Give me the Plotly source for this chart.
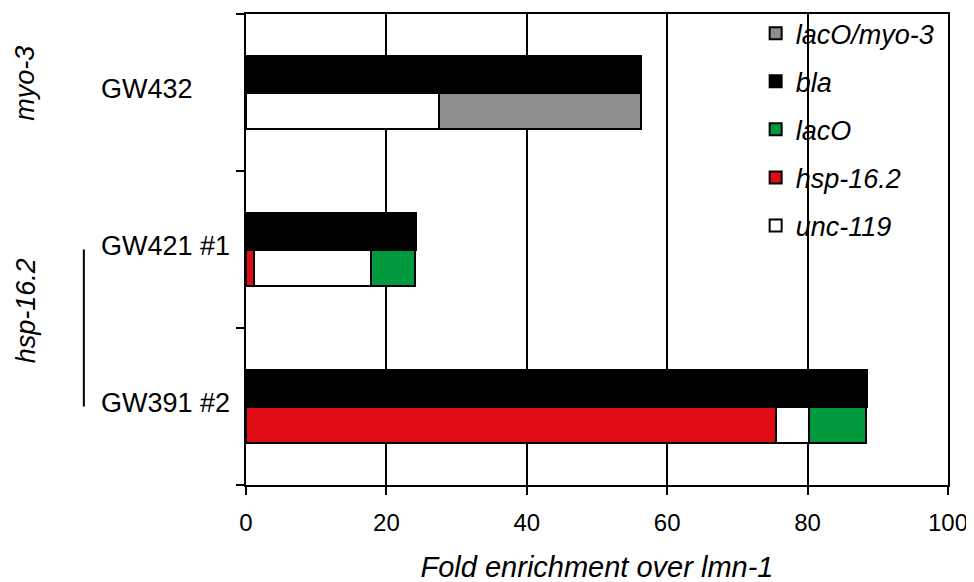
import plotly.graph_objects as go

categories = ["GW432", "GW421 #1", "GW391 #2"]
groups = ["myo-3", "hsp-16.2"]
bla = [56.3, 24.2, 88.4]
hsp16 = [None, 1.2, 75.5]
unc119 = [27.5, 16.6, 4.7]
lacO = [None, 6.3, 8.1]
lacO_myo3 = [28.8, None, None]
x_ticks = [0, 20, 40, 60, 80, 100]

FONT = "Arial, Liberation Sans, sans-serif"
pos = [2, 1, 0]  # category positions, top to bottom
BW = 0.23
top_y = [p + BW / 2 for p in pos]
bot_y = [p - BW / 2 for p in pos]

def nz(v):
    return v if v is not None else 0

red_end = [nz(v) for v in hsp16]
white_end = [r + nz(w) for r, w in zip(red_end, unc119)]
green_end = [w + nz(g) for w, g in zip(white_end, lacO)]

fig = go.Figure()
line = dict(color="black", width=2)

def add(name, x, y, base, color, group):
    fig.add_trace(go.Bar(
        name=name, x=x, y=y, base=base, orientation="h", width=BW,
        marker=dict(color=color, line=line), legendgroup=group,
    ))

add("<i>lacO/myo-3</i>", lacO_myo3, bot_y, green_end, "#8e8e8e", "g1")
add("<i>bla</i>", bla, top_y, [0, 0, 0], "black", "g2")
add("<i>lacO</i>", lacO, bot_y, white_end, "#009a3e", "g3")
add("<i>hsp-16.2</i>", hsp16, bot_y, [0, 0, 0], "#e00d16", "g4")
add("<i>unc-119</i>", unc119, bot_y, red_end, "white", "g5")

for c, p in zip(categories, pos):
    fig.add_annotation(x=-0.209, xref="paper", y=p + 0.02, yref="y", text=c,
                       showarrow=False, xanchor="left", yanchor="middle",
                       font=dict(family=FONT, size=27, color="black"))

fig.add_annotation(x=-0.314, xref="paper", y=2.06, yref="y", text="<i>myo-3</i>",
                   textangle=-90, showarrow=False, xanchor="center", yanchor="middle",
                   font=dict(family=FONT, size=27, color="black"))
fig.add_annotation(x=-0.314, xref="paper", y=0.61, yref="y", text="<i>hsp-16.2</i>",
                   textangle=-90, showarrow=False, xanchor="center", yanchor="middle",
                   font=dict(family=FONT, size=27, color="black"))
fig.add_shape(type="line", xref="paper", yref="y", x0=-0.231, x1=-0.231, y0=1, y1=0,
              line=dict(color="black", width=2))
# white patch behind the legend hiding the 80 gridline (legend itself is transparent)
fig.add_shape(type="rect", xref="paper", yref="paper", x0=0.74, x1=0.985,
              y0=0.516, y1=0.981, fillcolor="white", line=dict(width=0),
              layer="between")

# page body has an 8px margin; compensate so plot area lands at x 246-948, y 8-487
fig.update_layout(
    width=966, height=575,
    margin=dict(l=238, r=26, t=1, b=95),
    paper_bgcolor="white", plot_bgcolor="white",
    barmode="overlay", bargap=0,
    font=dict(family=FONT, size=24, color="black"),
    legend=dict(x=0.726, y=1.0104, xanchor="left", yanchor="top",
                bgcolor="rgba(0,0,0,0)", tracegroupgap=10,
                font=dict(family=FONT, size=27, color="black"),
                itemclick=False),
    showlegend=True,
)
fig.update_xaxes(
    range=[0, 100], tickvals=x_ticks, ticks="outside", ticklen=8, tickwidth=2,
    tickcolor="black", showgrid=True, gridcolor="black", gridwidth=2,
    showline=True, linecolor="black", linewidth=2, mirror=True, zeroline=False,
    tickfont=dict(family=FONT, size=24), ticklabelstandoff=7,
    title=dict(text="<i>Fold enrichment over lmn-1</i>", standoff=26,
               font=dict(family=FONT, size=29)),
)
fig.update_yaxes(
    range=[-0.5, 2.5], tickvals=[-0.5, 0.5, 1.5, 2.5], ticks="outside", ticklen=8,
    tickwidth=2, tickcolor="black", showticklabels=False, showgrid=False,
    showline=True, linecolor="black", linewidth=2, mirror=True, zeroline=False,
)

fig.write_html("out.html")
